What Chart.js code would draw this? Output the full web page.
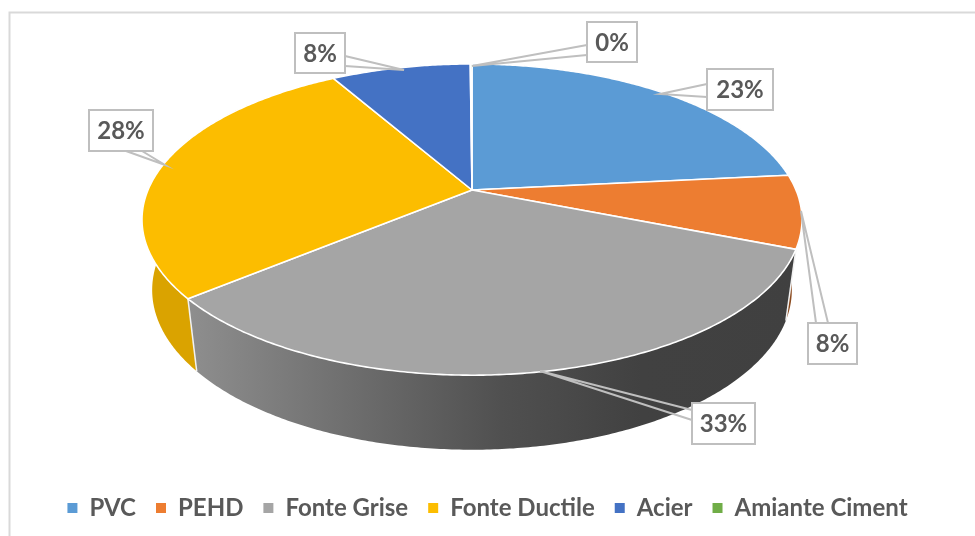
<!DOCTYPE html>
<html>
<head>
<meta charset="utf-8">
<style>html,body{margin:0;padding:0;background:#fff}canvas{display:block}</style>
<script src="https://cdn.jsdelivr.net/npm/chart.js@4"></script>
</head>
<body>
<canvas id="c" width="975" height="536"></canvas>
<script>
const categories = ['PVC','PEHD','Fonte Grise','Fonte Ductile','Acier','Amiante Ciment'];
const shares = [23.4,7.6,33.0,27.7,8.2,0.1];
const topColors = ['#5B9BD5','#ED7D31','#A5A5A5','#FCBD00','#4472C4','#70AD47'];
const wallColors = ['#4A7DAB','#8A4A1E',null,'#DAA300','#33568F','#54823A'];

// projection of the pie disc (perspective tilt)
const CX=472, TOPY=190, K=-0.19;
const TOP={bx:324,ay:150,y:TOPY}, LOW={bx:314,ay:154,y:259.6};
function pt(p,a){const u=Math.cos(a),v=Math.sin(a),w=1+K*v;return [CX+p.bx*u/w,p.y+p.ay*v/w];}
function rim(ctx,p,a0,a1,move){
  const n=Math.max(2,Math.ceil(Math.abs(a1-a0)/0.01));
  for(let i=0;i<=n;i++){const q=pt(p,a0+(a1-a0)*i/n);(i===0&&move)?ctx.moveTo(q[0],q[1]):ctx.lineTo(q[0],q[1]);}
}
// callout layout: box x0,y0,x1,y1 ; attach a,b ; tip
const callouts=[
 {box:[707,69,773,110],a:[707,84],b:[707,97],tip:[660,94]},
 {box:[808,323,857,364],a:[816,323],b:[828,323],tip:[801,211]},
 {box:[692,403,755,444],a:[692,410],b:[692,420],tip:[540,371]},
 {box:[89,110,153,151],a:[126,151],b:[142,151],tip:[165,165]},
 {box:[295,33,345,73],a:[345,56],b:[345,66],tip:[404,70]},
 {box:[587,22,637,62],a:[587,45],b:[587,55],tip:[472,66]}
];
const pie3d={
  id:'pie3d',
  beforeDraw(chart){
    const c=chart.ctx;c.save();c.strokeStyle='#D9D9D9';c.lineWidth=2;
    c.beginPath();c.moveTo(9.5,536);c.lineTo(9.5,12.5);c.lineTo(975,12.5);c.stroke();c.restore();
  },
  beforeDatasetsDraw(chart){
    const c=chart.ctx,arcs=chart.getDatasetMeta(0).data;
    c.save();
    // walls
    arcs.forEach((el,i)=>{
      let fill=wallColors[i];
      if(!fill){
        fill=c.createLinearGradient(190,0,800,0);
        fill.addColorStop(0,'#8E8E8E');fill.addColorStop(0.28,'#6C6C6C');
        fill.addColorStop(0.51,'#505050');fill.addColorStop(0.74,'#414141');fill.addColorStop(1,'#404040');
      }
      c.beginPath();rim(c,TOP,el.startAngle,el.endAngle,true);rim(c,LOW,el.endAngle,el.startAngle,false);c.closePath();
      c.fillStyle=fill;c.fill();
    });
    // wall dividers on the front
    c.strokeStyle='#F2F2F2';c.lineWidth=1.5;
    arcs.forEach(el=>{
      const a=el.endAngle,s=Math.sin(a);
      if(s>0.2){const p=pt(TOP,a),q=pt(LOW,a);c.beginPath();c.moveTo(p[0],p[1]);c.lineTo(q[0],q[1]);c.stroke();}
    });
    // top faces
    arcs.forEach((el,i)=>{
      c.beginPath();c.moveTo(CX,TOPY);rim(c,TOP,el.startAngle,el.endAngle,false);c.closePath();
      c.fillStyle=topColors[i];c.fill();
      c.strokeStyle='#FFFFFF';c.lineWidth=1.6;c.lineJoin='round';c.stroke();
    });
    c.restore();
    return false;
  },
  afterDraw(chart){
    const c=chart.ctx,vals=chart.data.datasets[0].data,tot=vals.reduce((s,v)=>s+v,0);
    c.save();
    callouts.forEach((o,i)=>{
      const [x0,y0,x1,y1]=o.box;
      c.fillStyle='#FFFFFF';c.fillRect(x0,y0,x1-x0,y1-y0);
      c.strokeStyle='#BFBFBF';c.lineWidth=2;c.lineJoin='miter';
      c.strokeRect(x0,y0,x1-x0,y1-y0);
      c.beginPath();c.moveTo(o.a[0],o.a[1]);c.lineTo(o.tip[0],o.tip[1]);c.lineTo(o.b[0],o.b[1]);c.stroke();
      c.fillStyle='#595959';c.font='bold 24px Lato';c.textAlign='center';c.textBaseline='middle';
      c.fillText(Math.round(vals[i]/tot*100)+'%',(x0+x1)/2,(y0+y1)/2+1);
    });
    c.restore();
  }
};
const canvasEl=document.getElementById('c');
canvasEl.getContext('2d').letterSpacing='0.3px';
new Chart(canvasEl,{
  type:'pie',
  data:{labels:categories,datasets:[{data:shares,backgroundColor:topColors,borderWidth:0}]},
  options:{
    responsive:false,animation:false,
    layout:{padding:{bottom:6}},
    plugins:{
      tooltip:{enabled:false},
      legend:{position:'bottom',labels:{boxWidth:10,boxHeight:10,padding:20,color:'#595959',font:{family:'Lato',size:24,weight:'bold'}}}
    }
  },
  plugins:[pie3d]
});
</script>
</body>
</html>
